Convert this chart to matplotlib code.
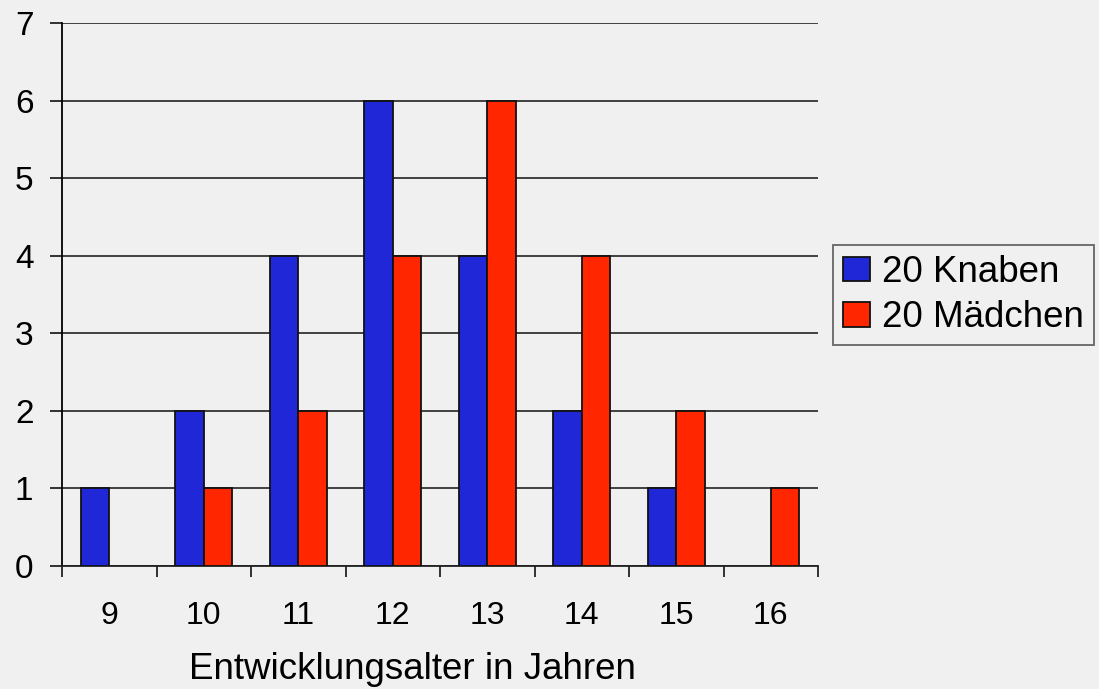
import numpy as np
import matplotlib.pyplot as plt
from matplotlib.ticker import FixedLocator

plt.rcParams['font.family'] = ['Liberation Sans', 'DejaVu Sans']

alter = ['9', '10', '11', '12', '13', '14', '15', '16']
knaben = [1, 2, 4, 6, 4, 2, 1, 0]
maedchen = [0, 1, 2, 4, 6, 4, 2, 1]

BG = '#f0f0f0'
BLAU = '#1f27d6'
ROT = '#ff2600'

fig = plt.figure(figsize=(10.99, 6.89), dpi=100, facecolor=BG)
ax = fig.add_axes([62 / 1099, 1 - 566 / 689, (818 - 62) / 1099, (566 - 23) / 689])
ax.set_facecolor(BG)

x = np.arange(len(alter))
b = 0.3
bk = ax.bar(x - b / 2, knaben, b, color=BLAU, edgecolor='#111111', linewidth=1.3,
            label='20 Knaben', zorder=3)
bm = ax.bar(x + b / 2, maedchen, b, color=ROT, edgecolor='#111111', linewidth=1.3,
            label='20 Mädchen', zorder=3)
# leere Balken ohne Rand, sonst sieht man einen Strich auf der Achse
for rect in list(bk) + list(bm):
    if rect.get_height() == 0:
        rect.set_linewidth(0)

ax.set_xlim(-0.5, len(alter) - 0.5)
ax.set_ylim(0, 7)
ax.set_yticks(range(8))
ax.tick_params(axis='y', labelsize=24, length=8.6, width=1.3, pad=12, color='#222222')
ax.set_xticks(x)
ax.set_xticklabels(alter)
ax.tick_params(axis='x', which='major', length=0, labelsize=23, pad=25)
ax.xaxis.set_minor_locator(FixedLocator(np.arange(-0.5, len(alter), 1.0)))
ax.tick_params(axis='x', which='minor', length=8, width=1.3, color='#222222')

ax.grid(axis='y', color='#333333', linewidth=1.3, zorder=0)
for s in ['top', 'right']:
    ax.spines[s].set_visible(False)
ax.spines['left'].set_linewidth(1.3)
ax.spines['bottom'].set_linewidth(1.3)
ax.spines['bottom'].set_color('#222222')

ax.set_xlabel('Entwicklungsalter in Jahren', fontsize=26.5, va='baseline')
ax.xaxis.set_label_coords(0.463, -0.209)

griffe = [plt.Rectangle((0, 0), 1, 1, facecolor=BLAU, edgecolor='#111111', linewidth=1.3),
          plt.Rectangle((0, 0), 1, 1, facecolor=ROT, edgecolor='#111111', linewidth=1.3)]
leg = fig.legend(griffe, ['20 Knaben', '20 Mädchen'], loc='upper left',
                 bbox_to_anchor=(833 / 1099, 1 - 245 / 689),
                 fontsize=26.5, frameon=True, fancybox=False, handlelength=0.73,
                 handleheight=0.65, handletextpad=0.33, borderpad=0.27,
                 labelspacing=0.28, borderaxespad=0)
leg.get_frame().set_edgecolor('#444444')
leg.get_frame().set_facecolor(BG)
leg.get_frame().set_linewidth(1.3)

fig.savefig('out.png', dpi=100, facecolor=BG)
